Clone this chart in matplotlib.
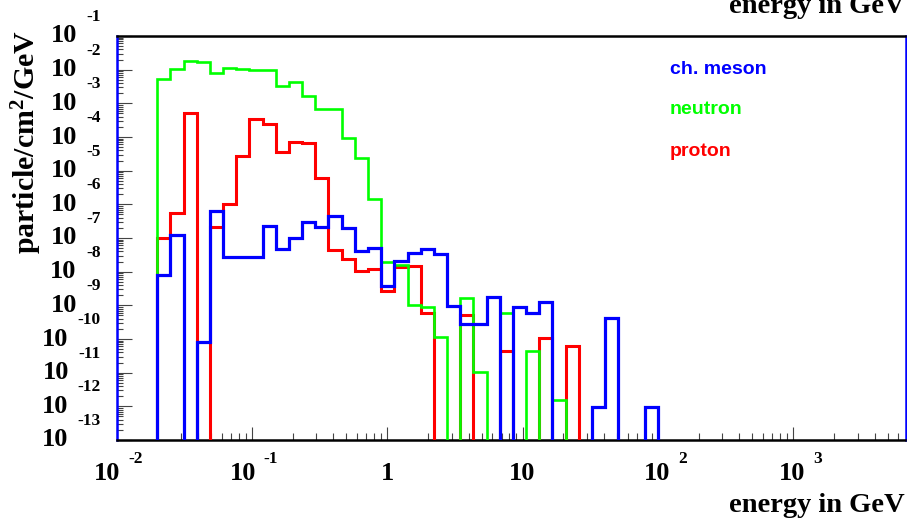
import numpy as np
import matplotlib
matplotlib.use("Agg")
import matplotlib.pyplot as plt
import matplotlib.transforms as mtrans
from matplotlib.ticker import LogLocator, NullFormatter

# 38 log-spaced bins, 0.02 .. 100 GeV; values are log10(particle/cm^2/GeV), nan = empty bin
E_MIN, E_MAX, N_BINS = 0.02, 100.0, 38

meson_log = [-8.10, -6.91, np.nan, -10.08, -6.20, -7.55, -7.55, -7.57, -6.64, -7.34,
             -7.01, -6.53, -6.68, -6.34, -6.71, -7.38, -7.31, -8.42, -7.67, -7.45,
             -7.34, -7.47, -9.02, -9.55, -9.55, -8.76, np.nan, -9.04, -9.24, -8.89,
             np.nan, np.nan, np.nan, -12.01, -9.38, np.nan, np.nan, -12.01]
neutron_log = [-2.28, -1.99, -1.73, -1.78, -2.11, -1.96, -1.98, -2.02, -2.02, -2.49,
               -2.38, -2.77, -3.17, -3.18, -4.02, -4.61, -5.84, -7.72, -7.80, -8.99,
               -9.04, -9.95, np.nan, -8.79, -10.99, np.nan, -9.22, np.nan, -10.36, np.nan,
               -11.81, np.nan, np.nan, np.nan, np.nan, np.nan, np.nan, np.nan]
proton_log = [-7.01, -6.27, -3.30, np.nan, -6.66, -5.99, -4.56, -3.47, -3.62, -4.44,
              -4.14, -4.19, -5.21, -7.36, -7.63, -7.97, -7.93, -8.57, -7.85, -7.83,
              -9.24, np.nan, np.nan, -9.29, np.nan, np.nan, -10.36, np.nan, np.nan, -9.96,
              np.nan, -10.21, np.nan, np.nan, np.nan, np.nan, np.nan, np.nan]

x_tick_exps = [-2, -1, 0, 1, 2, 3]
y_tick_exps = list(range(-1, -14, -1))

W, H = 907, 526
plt.rcParams["mathtext.fontset"] = "custom"
plt.rcParams["mathtext.rm"] = "Liberation Serif:bold"
plt.rcParams["mathtext.it"] = "Liberation Serif:bold"
plt.rcParams["mathtext.bf"] = "Liberation Serif:bold"

serif = dict(family="Liberation Serif", weight="bold")
sans = dict(family="Liberation Sans", weight="bold")

fig = plt.figure(figsize=(W / 100, H / 100), dpi=100)
ax_l, ax_r, ax_t, ax_b = 116.5, 905.5, 36, 440
ax = fig.add_axes([ax_l / W, 1 - ax_b / H, (ax_r - ax_l) / W, (ax_b - ax_t) / H])
ax.set_xscale("log")
ax.set_yscale("log")
ax.set_xlim(1e-2, 6760)
ax.set_ylim(1e-13, 1e-1)

edges = np.logspace(np.log10(E_MIN), np.log10(E_MAX), N_BINS + 1)


def to_vals(logs):
    v = 10.0 ** np.array(logs, dtype=float)
    return np.where(np.isnan(v), 1e-40, v)


ax.stairs(to_vals(proton_log), edges, baseline=1e-40, color="#ff0000", lw=2.2, zorder=3)
ax.stairs(to_vals(neutron_log), edges, baseline=1e-40, color="#00ff00", lw=1.9, zorder=4)
ax.stairs(to_vals(meson_log), edges, baseline=1e-40, color="#0000ff", lw=2.3, zorder=5)

# frame, ROOT look
for s in ["top", "bottom"]:
    ax.spines[s].set_color("black")
    ax.spines[s].set_linewidth(1.8)
for s in ["left", "right"]:
    ax.spines[s].set_color("#0000ff")
    ax.spines[s].set_linewidth(1.8)

ax.xaxis.set_major_locator(LogLocator(base=10, numticks=20))
ax.xaxis.set_minor_locator(LogLocator(base=10, subs=np.arange(2, 10), numticks=50))
ax.yaxis.set_major_locator(LogLocator(base=10, numticks=30))
ax.yaxis.set_minor_locator(LogLocator(base=10, subs=np.arange(2, 10), numticks=100))
ax.xaxis.set_major_formatter(NullFormatter())
ax.xaxis.set_minor_formatter(NullFormatter())
ax.yaxis.set_major_formatter(NullFormatter())
ax.yaxis.set_minor_formatter(NullFormatter())
ax.tick_params(which="both", direction="in", top=False, right=False, color="#444444", width=0.8)
ax.tick_params(axis="x", which="major", length=9.5)
ax.tick_params(axis="x", which="minor", length=5)
ax.tick_params(axis="y", which="major", length=10.5)
ax.tick_params(axis="y", which="minor", length=4.5)


def shift(tr, dx, dy):
    return tr + mtrans.ScaledTranslation(dx / 100, dy / 100, fig.dpi_scale_trans)


# x tick labels "10" with raised exponent
xt = mtrans.blended_transform_factory(ax.transData, ax.transAxes)
for e in x_tick_exps:
    v = 10.0 ** e
    if e == 0:
        ax.text(v, 0, "1", transform=shift(xt, 0, -34), ha="center", va="center", fontsize=19, **serif)
    elif e == 1:
        ax.text(v, 0, "10", transform=shift(xt, 0, -34), ha="center", va="center", fontsize=19, **serif)
    else:
        split = 8 if e < 0 else 16
        ax.text(v, 0, "10", transform=shift(xt, split - 4, -34), ha="right", va="center", fontsize=19, **serif)
        ax.text(v, 0, str(e), transform=shift(xt, split + 4, -19), ha="left", va="center", fontsize=12.5, **serif)

# y tick labels
yt = mtrans.blended_transform_factory(ax.transAxes, ax.transData)
for e in y_tick_exps:
    v = 10.0 ** e
    t = ax.text(0, v, str(e), transform=shift(yt, 101 - ax_l, 19), ha="right", va="center",
                fontsize=12.5, **serif)
    ax.annotate("10", xy=(0, 0.5), xycoords=t, xytext=(-7, -19 * 0.72), textcoords="offset points",
                ha="right", va="center", fontsize=19, annotation_clip=False, **serif)

fig.text(44 / W, 1 - 30 / H, r"particle/cm$^{2}$/GeV", rotation=90, ha="right", va="top",
         fontsize=21.5, **serif)
fig.text(905 / W, 1 - 512 / H, "energy in GeV", ha="right", va="baseline", fontsize=20.5, **serif)
fig.text(905 / W, 1 - 13 / H, "energy in GeV", ha="right", va="baseline", fontsize=20.5, **serif)

fig.text(670 / W, 1 - 70 / H, "ch. meson", color="#0000ff", ha="left", va="center", fontsize=14, **sans)
fig.text(670 / W, 1 - 110 / H, "neutron", color="#00ff00", ha="left", va="center", fontsize=14, **sans)
fig.text(670 / W, 1 - 151 / H, "proton", color="#ff0000", ha="left", va="center", fontsize=14, **sans)

fig.savefig("out.png", dpi=100, facecolor="white")
